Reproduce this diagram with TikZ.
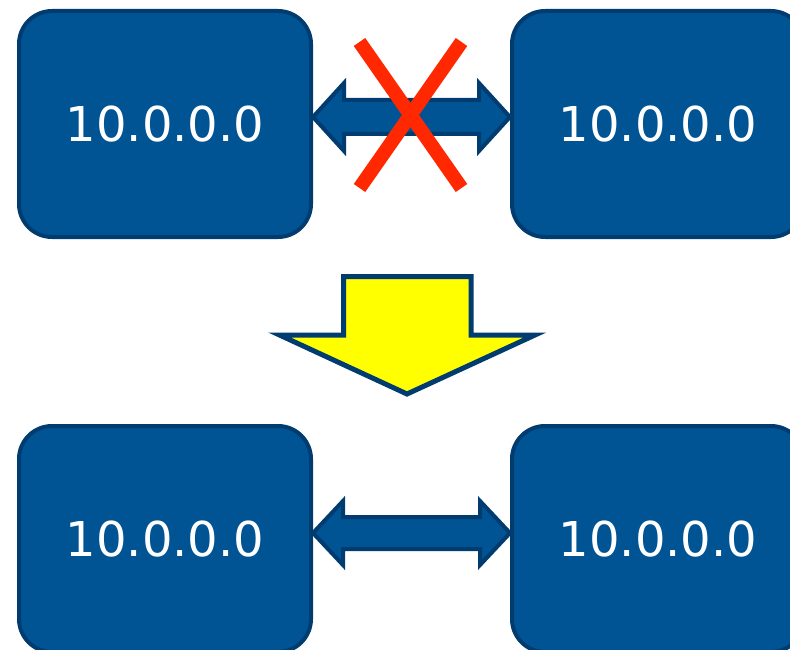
\documentclass[tikz,border=0pt]{standalone}
\usepackage{fontspec}
\setmainfont{DejaVu Sans}
\usetikzlibrary{calc}
\definecolor{boxblue}{RGB}{0,84,147}
\definecolor{edgeblue}{RGB}{0,60,112}
\definecolor{crossred}{RGB}{255,40,0}
\definecolor{signyellow}{RGB}{255,255,0}
\begin{document}
\begin{tikzpicture}[x=1pt,y=-1pt,
 host/.style={draw=edgeblue,fill=boxblue,line width=4pt,rounded corners=33pt,
  minimum width=292pt,minimum height=226pt,text=white,font=\fontsize{48}{58}\selectfont},
 link/.style={draw=edgeblue,fill=boxblue,line width=4pt,line join=miter},
 cross/.style={draw=crossred,line width=14pt}]
 \useasboundingbox (0,0) rectangle (790,650);
 \node[host] (oldA) at (165,124) {10.0.0.0};
 \node[host] (oldB) at (658,124) {10.0.0.0};
 \node[host] (newA) at (165,539) {10.0.0.0};
 \node[host] (newB) at (658,539) {10.0.0.0};
 \path ([yshift=7pt]oldA.east) coordinate (l1) ([yshift=7pt]oldB.west) coordinate (r1);
 \path ([yshift=6pt]newA.east) coordinate (l2) ([yshift=6pt]newB.west) coordinate (r2);
 \draw[link] (l1) -- ($(l1)+(31,-34)$) -- ($(l1)+(31,-17)$) -- ($(r1)+(-31,-17)$) -- ($(r1)+(-31,-34)$) -- (r1)
  -- ($(r1)+(-31,34)$) -- ($(r1)+(-31,17)$) -- ($(l1)+(31,17)$) -- ($(l1)+(31,34)$) -- cycle;
 \draw[link] (l2) -- ($(l2)+(30,-32)$) -- ($(l2)+(30,-16)$) -- ($(r2)+(-30,-16)$) -- ($(r2)+(-30,-32)$) -- (r2)
  -- ($(r2)+(-30,32)$) -- ($(r2)+(-30,16)$) -- ($(l2)+(30,16)$) -- ($(l2)+(30,32)$) -- cycle;
 \coordinate (cut) at ($(l1)!0.5!(r1)+(-1,-2)$);
 \draw[cross] ($(cut)+(-51,-73)$) -- ($(cut)+(51,73)$);
 \draw[cross] ($(cut)+(51,-73)$) -- ($(cut)+(-51,73)$);
 \draw[draw=edgeblue,fill=signyellow,line width=5pt,line join=miter]
  (343.5,276.5) -- (471,276.5) -- (471,335) -- (535,335) -- (407,394) -- (279.5,335) -- (343.5,335) -- cycle;
\end{tikzpicture}
\end{document}
